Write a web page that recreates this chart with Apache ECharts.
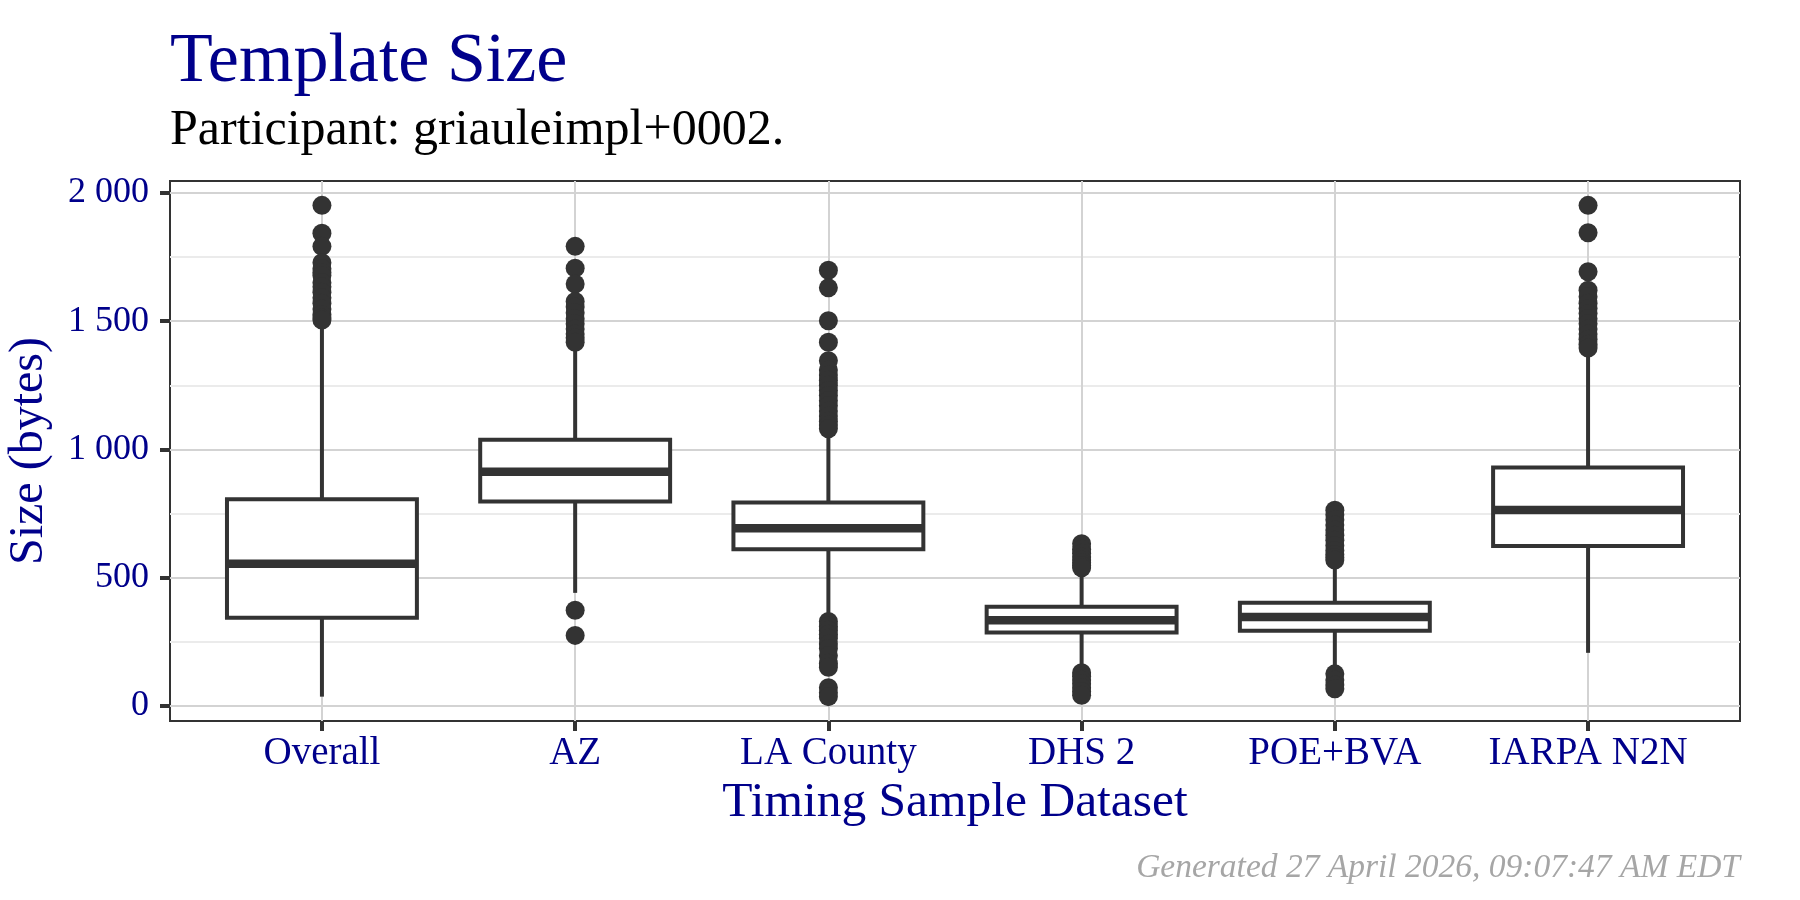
<!DOCTYPE html>
<html>
<head>
<meta charset="utf-8">
<script src="https://cdn.jsdelivr.net/npm/echarts@6/dist/echarts.min.js"></script>
<style>
  html, body { margin: 0; padding: 0; background: #ffffff; }
  #chart { width: 1800px; height: 900px; }
</style>
</head>
<body>
<div id="chart"></div>
<script>
// ---- data ----
const categories = ['Overall', 'AZ', 'LA County', 'DHS 2', 'POE+BVA', 'IARPA N2N'];
const whiskerLow  = [35, 440, 338, 145, 132, 206];
const q1          = [343, 796, 610, 285, 292, 623];
const median      = [554, 913, 692, 333, 346, 763];
const q3          = [805, 1037, 793, 386, 401, 929];
const whiskerHigh = [1495, 1405, 1065, 530, 560, 1380];

const outliersOverall = [1952, 1843, 1792, 1728, 1705, 1690, 1678, 1650, 1634, 1613, 1591, 1570, 1548, 1526, 1512, 1505];
const outliersAZ      = [1792, 1707, 1645, 1577, 1555, 1533, 1510, 1490, 1470, 1450, 1435, 1418, 372, 274];
const outliersLA      = [1699, 1630, 1502, 1418, 1346, 1310, 1290, 1270, 1250, 1230, 1210, 1190, 1170, 1150, 1130, 1110, 1095, 1080,
                         328, 310, 294, 278, 263, 240, 223, 195, 165, 150, 70, 50, 35];
const outliersDHS2    = [632, 610, 595, 580, 568, 557, 547, 538, 128, 115, 100, 85, 70, 55, 40];
const outliersPOE     = [762, 745, 725, 705, 685, 665, 645, 625, 605, 590, 578, 568, 124, 100, 80, 66];
const outliersIARPA   = [1952, 1845, 1693, 1621, 1595, 1570, 1550, 1530, 1510, 1490, 1470, 1450, 1430, 1410, 1395];
const outlierGroups = [outliersOverall, outliersAZ, outliersLA, outliersDHS2, outliersPOE, outliersIARPA];

const yTicks = [0, 500, 1000, 1500, 2000];
const yMinorTicks = [250, 750, 1250, 1750];
const yRange = [-60, 2047];
const xRange = [-0.6, 5.6];

const titleText = 'Template Size';
const subtitleText = 'Participant: griauleimpl+0002.';
const captionText = 'Generated 27 April 2026, 09:07:47 AM EDT';
const xName = 'Timing Sample Dataset';
const yName = 'Size (bytes)';

// ---- build ----
const boxData = categories.map((c, i) => [i, whiskerLow[i], q1[i], median[i], q3[i], whiskerHigh[i]]);
const outlierData = [];
outlierGroups.forEach((arr, i) => arr.forEach(v => outlierData.push([i, v])));
const catIdx = categories.map((c, i) => i);

const FONT = "'Liberation Serif', 'DejaVu Serif', serif";
const BLUE = '#00008B';
const DARK = '#333333';

function fmtThousands(v) {
  return String(v).replace(/\B(?=(\d{3})+(?!\d))/g, ' ');
}

const chart = echarts.init(document.getElementById('chart'), null, { renderer: 'canvas' });

const option = {
  backgroundColor: '#ffffff',
  animation: false,
  title: [
    { text: titleText, left: 170, top: 28, padding: 0,
      textStyle: { fontFamily: FONT, fontSize: 70, fontWeight: 'normal', color: BLUE } },
    { text: subtitleText, left: 170, top: 106, padding: 0,
      textStyle: { fontFamily: FONT, fontSize: 50, fontWeight: 'normal', color: '#000000' } },
    { text: captionText, right: 60, top: 851, padding: 0,
      textStyle: { fontFamily: FONT, fontSize: 33.5, fontStyle: 'italic', fontWeight: 'normal', color: '#A6A6A6' } }
  ],
  grid: {
    left: 170, right: 60, top: 181, bottom: 179,
    outerBoundsMode: 'none', containLabel: false,
    show: true, borderColor: '#333333', borderWidth: 2, backgroundColor: 'transparent'
  },
  xAxis: {
    type: 'value', min: xRange[0], max: xRange[1],
    name: xName, nameLocation: 'middle', nameGap: 57,
    nameTextStyle: { fontFamily: FONT, fontSize: 49.5, color: BLUE },
    axisLine: { show: false, onZero: false },
    axisTick: { show: true, inside: false, customValues: catIdx, length: 10, lineStyle: { color: DARK, width: 4 } },
    axisLabel: { customValues: catIdx, margin: 13, fontFamily: FONT, fontSize: 39, color: BLUE,
      formatter: v => categories[Math.round(v)] },
    splitLine: { show: true, lineStyle: { color: '#d3d3d3', width: 2 } }
  },
  yAxis: [
    {
      type: 'value', min: yRange[0], max: yRange[1],
      name: yName, nameLocation: 'middle', nameGap: 117, nameRotate: 90,
      nameTextStyle: { fontFamily: FONT, fontSize: 48, color: BLUE },
      axisLine: { show: false, onZero: false },
      axisTick: { show: true, inside: false, customValues: yTicks, length: 10, lineStyle: { color: DARK, width: 4 } },
      axisLabel: { customValues: yTicks, margin: 21, fontFamily: FONT, fontSize: 36, color: BLUE,
        formatter: v => fmtThousands(v) },
      splitLine: { show: true, lineStyle: { color: '#d3d3d3', width: 2 } },
      z: 1
    },
    {
      type: 'value', min: yRange[0], max: yRange[1], position: 'left',
      axisLine: { show: false, onZero: false },
      axisTick: { show: false, customValues: yMinorTicks },
      axisLabel: { show: false, customValues: yMinorTicks },
      splitLine: { show: true, lineStyle: { color: '#ebebeb', width: 2 } },
      z: 0
    }
  ],
  series: [
    {
      type: 'custom',
      xAxisIndex: 0, yAxisIndex: 0,
      dimensions: ['x', 'low', 'q1', 'median', 'q3', 'high'],
      encode: { x: 0, y: [1, 2, 3, 4, 5] },
      data: boxData,
      z: 3,
      renderItem: function (params, api) {
        const x = api.value(0);
        const pLow = api.coord([x, api.value(1)]);
        const pQ1 = api.coord([x, api.value(2)]);
        const pMed = api.coord([x, api.value(3)]);
        const pQ3 = api.coord([x, api.value(4)]);
        const pHigh = api.coord([x, api.value(5)]);
        const halfW = api.size([0.75, 0])[0] / 2;
        const cx = pMed[0];
        return {
          type: 'group',
          children: [
            { type: 'line', shape: { x1: cx, y1: pHigh[1], x2: cx, y2: pQ3[1] },
              style: { stroke: DARK, lineWidth: 4 } },
            { type: 'line', shape: { x1: cx, y1: pQ1[1], x2: cx, y2: pLow[1] },
              style: { stroke: DARK, lineWidth: 4 } },
            { type: 'rect', shape: { x: cx - halfW, y: pQ3[1], width: 2 * halfW, height: pQ1[1] - pQ3[1] },
              style: { fill: '#ffffff', stroke: DARK, lineWidth: 4 } },
            { type: 'line', shape: { x1: cx - halfW, y1: pMed[1], x2: cx + halfW, y2: pMed[1] },
              style: { stroke: DARK, lineWidth: 8.5 } }
          ]
        };
      }
    },
    {
      type: 'scatter',
      xAxisIndex: 0, yAxisIndex: 0,
      data: outlierData,
      symbol: 'circle',
      symbolSize: 19,
      itemStyle: { color: DARK, opacity: 1 },
      z: 4
    }
  ]
};

chart.setOption(option);
</script>
</body>
</html>
